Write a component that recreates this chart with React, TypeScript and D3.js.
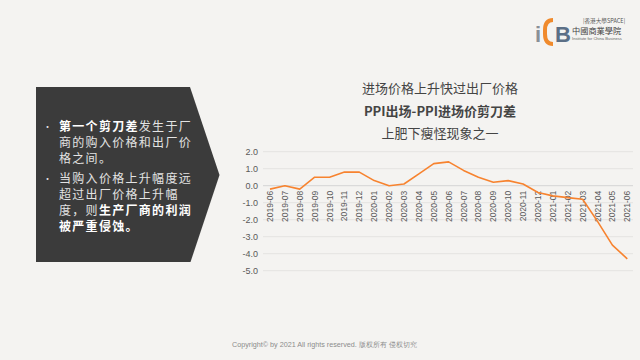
import React from 'react';
import * as d3 from 'd3';

// PPI scissors gap (PPI out - PPI in), monthly
const months = [
  '2019-06', '2019-07', '2019-08', '2019-09', '2019-10', '2019-11', '2019-12',
  '2020-01', '2020-02', '2020-03', '2020-04', '2020-05', '2020-06', '2020-07',
  '2020-08', '2020-09', '2020-10', '2020-11', '2020-12', '2021-01', '2021-02',
  '2021-03', '2021-04', '2021-05', '2021-06',
];
const gap = [
  -0.2, 0.0, -0.2, 0.5, 0.5, 0.8, 0.8,
  0.3, 0.0, 0.1, 0.7, 1.3, 1.4, 0.9,
  0.5, 0.2, 0.3, 0.1, -0.4, -0.6, -0.7,
  -0.8, -2.1, -3.5, -4.3,
];
const yTicks = [2, 1, 0, -1, -2, -3, -4, -5];

const titleLines = ['进场价格上升快过出厂价格', 'PPI出场-PPI进场价剪刀差', '上肥下瘦怪现象之一'];

const W = 640;
const H = 360;
const font = "'Noto Sans CJK SC', 'Liberation Sans', Arial, sans-serif";
const latin = "'Liberation Sans', Arial, sans-serif";

const App = () => {
  const x = d3.scalePoint<string>().domain(months).range([270, 627.3]);
  const y = d3.scaleLinear().domain([-5, 2]).range([270.7, 151.7]);

  const line = d3.line<number>()
    .x((_, i) => x(months[i]) as number)
    .y(d => y(d));

  const panel = 'M36,87 L190,87 L219.5,175 L190.5,262 L36,262 Z';

  return (
    <div style={{ position: 'fixed', left: 0, top: 0, width: W, height: H }}>
      <svg width={W} height={H} style={{ display: 'block', fontFamily: font }}>
        <rect width={W} height={H} fill="#f4f3f1" />

        {/* logo */}
        <g>
          <text x={535} y={42} fontSize={22} fill="#8a8f96" fontFamily={latin} fontWeight="bold">i</text>
          <path d="M553,20 Q545,20 545,30 L545,34 Q545,44 553,44" fill="none" stroke="#f08a2c" strokeWidth={4} />
          <text x={555} y={42} fontSize={22} fill="#5b6f86" fontFamily={latin} fontWeight="bold">B</text>
          <text x={583} y={22.5} fontSize={5.6} fill="#555">|香港大學SPACE|</text>
          <text x={572} y={33.5} fontSize={8.2} fill="#444">中國商業學院</text>
          <text x={572} y={40} fontSize={4.1} fill="#666" fontFamily={latin}>Institute for China Business</text>
        </g>

        {/* left panel */}
        <path d={panel} fill="#3b3b3b" />
        <g fontSize={12} fill="#e3e3e3" letterSpacing={1.3}>
          <text x={43} y={129.5} fontSize={9} letterSpacing={0}>•</text>
          <text x={59} y={130.5}><tspan fontWeight="bold" fill="#fff">第一个剪刀差</tspan>发生于厂</text>
          <text x={59} y={146.5}>商的购入价格和出厂价</text>
          <text x={59} y={162.5}>格之间。</text>
          <text x={43} y={181.5} fontSize={9} letterSpacing={0}>•</text>
          <text x={59} y={182.5}>当购入价格上升幅度远</text>
          <text x={59} y={198.5}>超过出厂价格上升幅</text>
          <text x={59} y={214.5}>度，则<tspan fontWeight="bold" fill="#fff">生产厂商的利润</tspan></text>
          <text x={59} y={230.5} fontWeight="bold" fill="#fff">被严重侵蚀。</text>
        </g>

        {/* title */}
        <g textAnchor="middle" fontSize={13} fill="#444">
          {titleLines.map((t, i) => (
            <text key={t} x={440} y={[93, 116, 138][i]} fontWeight={i === 1 ? 'bold' : 'normal'}>{t}</text>
          ))}
        </g>

        {/* grid + y axis */}
        <g>
          {yTicks.map(t => (
            <g key={t}>
              <line x1={263} x2={633} y1={y(t)} y2={y(t)} stroke={t === 0 ? '#d4d4d4' : '#e4e3e1'} strokeWidth={1} />
              <text x={258} y={y(t)} dy="0.35em" textAnchor="end" fontSize={9} fill="#595959"
                fontFamily={latin}>{t.toFixed(1)}</text>
            </g>
          ))}
        </g>

        {/* x labels */}
        <g fontSize={8.5} fill="#595959" fontFamily={latin}>
          {months.map(m => (
            <text key={m} transform={`translate(${x(m)},${y(0) + 5}) rotate(-90)`} textAnchor="end" dy="0.35em">{m}</text>
          ))}
        </g>

        <path d={line(gap) ?? ''} fill="none" stroke="#f7832f" strokeWidth={1.6} strokeLinejoin="round" />

        <text x={232} y={347} fontSize={7.2} fill="#8c8c8c" fontFamily={latin}>
          Copyright© by 2021 All rights reserved. 版权所有 侵权切究
        </text>
      </svg>
    </div>
  );
};

export default App;
